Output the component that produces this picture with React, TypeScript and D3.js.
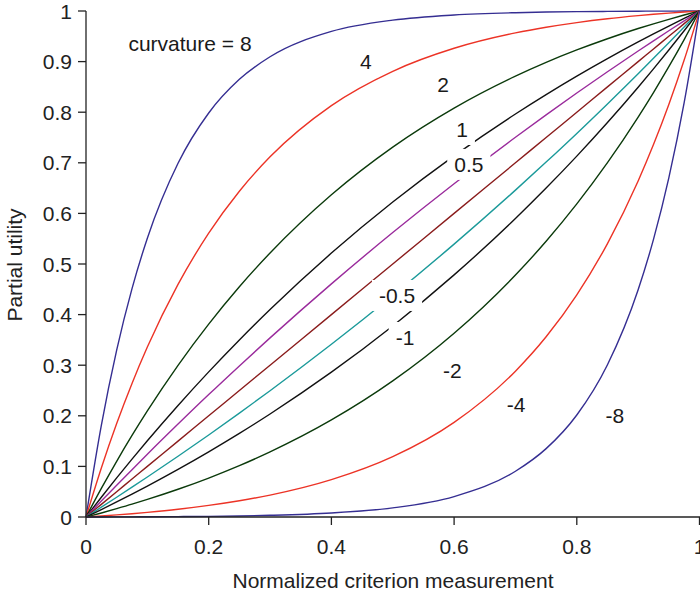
import React, { useEffect, useRef } from "react";
import * as d3 from "d3";

// Sample positions along the normalized criterion axis
const xs = [0, 0.025, 0.05, 0.075, 0.1, 0.15, 0.2, 0.25, 0.3, 0.4, 0.5, 0.6, 0.7, 0.75, 0.8, 0.85, 0.9, 0.925, 0.95, 0.975, 1];

// Partial utility values read for each curvature
const uP8 = [0, 0.1813, 0.3298, 0.4513, 0.5509, 0.6990, 0.7984, 0.8650, 0.9096, 0.9596, 0.9820, 0.9921, 0.9966, 0.9979, 0.9987, 0.9992, 0.9996, 0.9997, 0.9998, 0.9999, 1];
const uP4 = [0, 0.0969, 0.1847, 0.2640, 0.3358, 0.4596, 0.5610, 0.6439, 0.7118, 0.8130, 0.8808, 0.9263, 0.9567, 0.9679, 0.9771, 0.9847, 0.9908, 0.9935, 0.9959, 0.9980, 1];
const uP2 = [0, 0.0564, 0.1101, 0.1611, 0.2096, 0.2998, 0.3813, 0.4551, 0.5218, 0.6369, 0.7311, 0.8082, 0.8713, 0.8985, 0.9230, 0.9452, 0.9654, 0.9747, 0.9835, 0.9920, 1];
const uP1 = [0, 0.0391, 0.0772, 0.1143, 0.1506, 0.2204, 0.2868, 0.3499, 0.4100, 0.5216, 0.6225, 0.7138, 0.7964, 0.8347, 0.8712, 0.9058, 0.9388, 0.9547, 0.9702, 0.9853, 1];
const uP05 = [0, 0.0316, 0.0627, 0.0935, 0.1240, 0.1836, 0.2419, 0.2986, 0.3540, 0.4607, 0.5622, 0.6587, 0.7505, 0.7948, 0.8379, 0.8799, 0.9210, 0.9411, 0.9610, 0.9806, 1];
const u0 = [0, 0.025, 0.05, 0.075, 0.1, 0.15, 0.2, 0.25, 0.3, 0.4, 0.5, 0.6, 0.7, 0.75, 0.8, 0.85, 0.9, 0.925, 0.95, 0.975, 1];
const uM05 = [0, 0.0194, 0.0390, 0.0589, 0.0790, 0.1201, 0.1621, 0.2053, 0.2495, 0.3413, 0.4378, 0.5393, 0.6460, 0.7014, 0.7581, 0.8164, 0.8760, 0.9065, 0.9373, 0.9684, 1];
const uM1 = [0, 0.0147, 0.0298, 0.0453, 0.0612, 0.0942, 0.1289, 0.1653, 0.2036, 0.2862, 0.3775, 0.4785, 0.5900, 0.6501, 0.7132, 0.7796, 0.8494, 0.8857, 0.9228, 0.9609, 1];
const uM2 = [0, 0.0080, 0.0165, 0.0253, 0.0347, 0.0548, 0.0770, 0.1015, 0.1287, 0.1918, 0.2689, 0.3631, 0.4782, 0.5449, 0.6187, 0.7002, 0.7904, 0.8389, 0.8899, 0.9436, 1];
const uM4 = [0, 0.0020, 0.0041, 0.0065, 0.0092, 0.0153, 0.0229, 0.0321, 0.0433, 0.0738, 0.1192, 0.1870, 0.2882, 0.3561, 0.4390, 0.5404, 0.6642, 0.7360, 0.8153, 0.9031, 1];
const uM8 = [0, 0.0001, 0.0002, 0.0003, 0.0004, 0.0008, 0.0013, 0.0021, 0.0034, 0.0079, 0.0180, 0.0404, 0.0904, 0.1351, 0.2016, 0.3010, 0.4491, 0.5487, 0.6702, 0.8187, 1];

const curveNames = ["8", "4", "2", "1", "0.5", "0", "-0.5", "-1", "-2", "-4", "-8"];
const curveValues = [uP8, uP4, uP2, uP1, uP05, u0, uM05, uM1, uM2, uM4, uM8];
const curveColors = ["#352e92", "#ec3326", "#0b3a0b", "#111111", "#9a2b9c", "#8a1c1c", "#1b9a9a", "#111111", "#0b3a0b", "#ec3326", "#352e92"];

// Curve labels (anchored in data units)
const labelTexts = ["curvature = 8", "4", "2", "1", "0.5", "-0.5", "-1", "-2", "-4", "-8"];
const labelX = [0.1695, 0.456, 0.582, 0.613, 0.624, 0.507, 0.520, 0.597, 0.701, 0.862];
const labelY = [0.921, 0.885, 0.840, 0.751, 0.682, 0.423, 0.340, 0.275, 0.2075, 0.186];

const xTicks = [0, 0.2, 0.4, 0.6, 0.8, 1];
const yTicks = [0, 0.1, 0.2, 0.3, 0.4, 0.5, 0.6, 0.7, 0.8, 0.9, 1];

const xTitle = "Normalized criterion measurement";
const yTitle = "Partial utility";

const W = 700;
const H = 594;
const FONT = "'Liberation Sans', Arial, Helvetica, sans-serif";
const FS = 21;

export default function App() {
  const ref = useRef<SVGSVGElement | null>(null);

  useEffect(() => {
    const svg = d3.select(ref.current);
    svg.selectAll("*").remove();

    const x = d3.scaleLinear().domain([0, 1]).range([86, 699.5]);
    const y = d3.scaleLinear().domain([0, 1]).range([517, 11]);

    const line = d3
      .line<[number, number]>()
      .x((d) => x(d[0]))
      .y((d) => y(d[1]))
      .curve(d3.curveMonotoneX);

    const gLines = svg.append("g");
    curveValues.forEach((vals, i) => {
      const pts: [number, number][] = xs.map((xv, j) => [xv, vals[j]]);
      gLines
        .append("path")
        .attr("d", line(pts) as string)
        .attr("fill", "none")
        .attr("stroke", curveColors[i])
        .attr("stroke-width", 1.4)
        .attr("data-curvature", curveNames[i]);
    });

    // axes
    const axisColor = "#222";
    const gAxes = svg.append("g");
    gAxes
      .append("line")
      .attr("x1", x(0))
      .attr("x2", x(0))
      .attr("y1", y(1))
      .attr("y2", y(0))
      .attr("stroke", axisColor)
      .attr("stroke-width", 1.3);
    gAxes
      .append("line")
      .attr("x1", x(0))
      .attr("x2", W + 2)
      .attr("y1", y(0))
      .attr("y2", y(0))
      .attr("stroke", axisColor)
      .attr("stroke-width", 1.3);

    yTicks.forEach((t) => {
      gAxes
        .append("line")
        .attr("x1", x(0) - 8)
        .attr("x2", x(0))
        .attr("y1", y(t))
        .attr("y2", y(t))
        .attr("stroke", axisColor)
        .attr("stroke-width", 1.3);
      gAxes
        .append("text")
        .attr("x", x(0) - 14)
        .attr("y", y(t) + 7.5)
        .attr("text-anchor", "end")
        .attr("font-family", FONT)
        .attr("font-size", FS)
        .attr("fill", axisColor)
        .text(d3.format("~g")(t));
    });

    xTicks.forEach((t) => {
      gAxes
        .append("line")
        .attr("x1", x(t))
        .attr("x2", x(t))
        .attr("y1", y(0))
        .attr("y2", y(0) + 8)
        .attr("stroke", axisColor)
        .attr("stroke-width", 1.3);
      gAxes
        .append("text")
        .attr("x", x(t))
        .attr("y", y(0) + 37)
        .attr("text-anchor", "middle")
        .attr("font-family", FONT)
        .attr("font-size", FS)
        .attr("fill", axisColor)
        .text(d3.format("~g")(t));
    });

    svg
      .append("text")
      .attr("x", 393)
      .attr("y", 588)
      .attr("text-anchor", "middle")
      .attr("font-family", FONT)
      .attr("font-size", FS)
      .attr("fill", axisColor)
      .text(xTitle);

    svg
      .append("text")
      .attr("transform", `translate(22,265) rotate(-90)`)
      .attr("text-anchor", "middle")
      .attr("font-family", FONT)
      .attr("font-size", FS)
      .attr("fill", axisColor)
      .text(yTitle);

    // labels with white background boxes
    const gLab = svg.append("g");
    labelTexts.forEach((txt, i) => {
      const g = gLab.append("g");
      const rect = g.append("rect").attr("fill", "#fff");
      const t = g
        .append("text")
        .attr("x", x(labelX[i]))
        .attr("y", y(labelY[i]))
        .attr("text-anchor", "middle")
        .attr("font-family", FONT)
        .attr("font-size", FS)
        .attr("fill", "#1a1a1a")
        .text(txt);
      const bb = (t.node() as SVGTextElement).getBBox();
      const px = 7;
      const py = 4;
      rect
        .attr("x", bb.x - px)
        .attr("y", bb.y - py)
        .attr("width", bb.width + 2 * px)
        .attr("height", bb.height + 2 * py);
    });
  }, []);

  return (
    <svg
      ref={ref}
      width={W}
      height={H}
      style={{ position: "absolute", left: 0, top: 0, background: "#fff" }}
    />
  );
}
